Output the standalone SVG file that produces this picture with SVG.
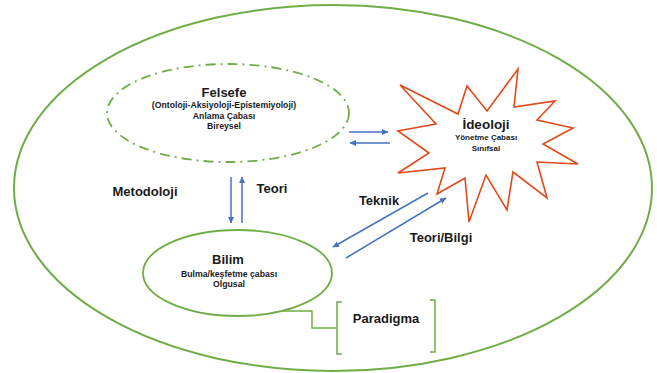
<svg xmlns="http://www.w3.org/2000/svg" width="657" height="373" viewBox="0 0 657 373">
<style>
.g{fill:none;stroke:#70AD47;}
.b{fill:none;stroke:#4472C4;stroke-width:1.5;}
text{font-family:"Liberation Sans",Arial,sans-serif;font-weight:bold;fill:#1a1a1a;text-anchor:middle;}
.t{font-size:13px;}
.s{font-size:8.7px;}
</style>
<defs>
<marker id="ah" markerUnits="userSpaceOnUse" markerWidth="7" markerHeight="7" refX="6" refY="3.5" orient="auto">
<path d="M0,0.5 L6.5,3.5 L0,6.5 Z" fill="#4472C4"/>
</marker>
</defs>
<rect width="657" height="373" fill="#ffffff"/>
<g id="outer">
<ellipse class="g" cx="333" cy="188" rx="319" ry="183" stroke-width="2"/>
</g>
<g id="felsefe">
<ellipse class="g" cx="228" cy="113" rx="121" ry="49" stroke-width="1.8" stroke-dasharray="10 5 2 5"/>
<text class="t" x="224" y="97">Felsefe</text>
<text class="s" x="224" y="108">(Ontoloji-Aksiyoloji-Epistemiyoloji)</text>
<text class="s" x="224" y="119">Anlama Çabası</text>
<text class="s" x="224" y="129">Bireysel</text>
</g>
<g id="ideoloji">
<polygon points="400,85 458,114 467,86 487,111 518,69 514,107 555,101 537,120 573,128 543,144 578,164 537,162 547,198 513,172 507,210 486,175 469,222 465,178 437,194 445,168 398,173 429,153 398,131 436,124" fill="#ffffff" stroke="#E04A1A" stroke-width="1.6" stroke-linejoin="miter"/>
<text x="486" y="129" font-size="13.5px">İdeoloji</text>
<text x="486" y="140" font-size="8px">Yönetme Çabası</text>
<text x="486" y="151" font-size="8px">Sınıfsal</text>
</g>
<g id="bilim">
<ellipse class="g" cx="237.5" cy="273" rx="94.5" ry="43" stroke-width="1.8"/>
<text class="t" x="228" y="264">Bilim</text>
<text class="s" x="229" y="277" font-size="8.4px">Bulma/keşfetme çabası</text>
<text class="s" x="229" y="287" font-size="8.4px">Olgusal</text>
</g>
<g id="paradigma">
<path class="g" stroke-width="1.5" d="M342,302 H337 V354 H342"/>
<path class="g" stroke-width="1.5" d="M430,300 H435 V352 H430"/>
<text class="t" x="386" y="323">Paradigma</text>
</g>
<g id="connectors">
<path class="b" d="M349,132 H388" marker-end="url(#ah)"/>
<path class="b" d="M390,143 H350" marker-end="url(#ah)"/>
<path class="b" d="M231,177 V223" marker-end="url(#ah)"/>
<path class="b" d="M242,223 V177" marker-end="url(#ah)"/>
<path class="b" d="M428,193 L333,247" marker-end="url(#ah)"/>
<path class="b" d="M346,258 L446,198" marker-end="url(#ah)"/>
<path class="g" stroke-width="1.5" d="M282,311 H312 V328 H337"/>
</g>
<g id="labels">
<text class="t" x="145" y="196" font-size="14px">Metodoloji</text>
<text class="t" x="272" y="193">Teori</text>
<text class="t" x="379" y="205">Teknik</text>
<text class="t" x="441" y="242">Teori/Bilgi</text>
</g>
</svg>
